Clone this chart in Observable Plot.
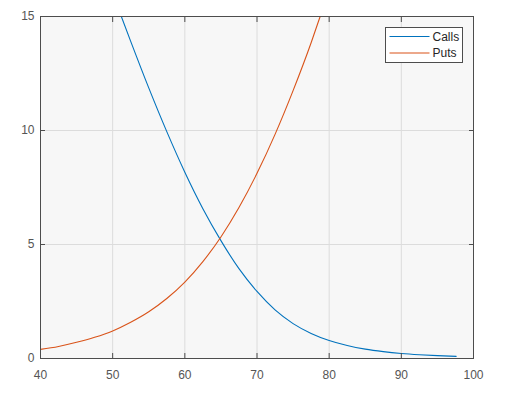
<!DOCTYPE html>
<html><head><meta charset="utf-8">
<script src="https://cdn.jsdelivr.net/npm/d3@7"></script>
<script src="https://cdn.jsdelivr.net/npm/@observablehq/plot@0.6"></script>
<style>body{margin:0;background:#fff;} #chart{width:513px;height:395px;}</style>
</head><body><div id="chart"></div>
<script>
const seriesNames = ["Calls", "Puts"];
const seriesColors = ["#0072BD", "#D95319"];
const callStrikes = [51.2, 52.5, 55, 57.5, 60, 62.5, 65, 67.5, 70, 72.5, 75, 77.5, 80, 82.5, 85, 87.5, 90, 92.5, 95, 97.6];
const callPrices  = [15.0, 13.91, 11.87, 9.95, 8.17, 6.57, 5.17, 3.94, 2.94, 2.13, 1.53, 1.10, 0.79, 0.57, 0.41, 0.30, 0.22, 0.165, 0.125, 0.095];
const putStrikes = [40, 42.5, 45, 47.5, 50, 52.5, 55, 57.5, 60, 62.5, 65, 67.5, 70, 72.5, 75, 77.5, 78.75];
const putPrices  = [0.40, 0.53, 0.71, 0.93, 1.21, 1.59, 2.05, 2.63, 3.35, 4.25, 5.33, 6.62, 8.12, 9.83, 11.75, 13.85, 15.0];
const xTicks = [40, 50, 60, 70, 80, 90, 100];
const yTicks = [0, 5, 10, 15];

const calls = callStrikes.map((x, i) => ({x, y: callPrices[i]}));
const puts = putStrikes.map((x, i) => ({x, y: putPrices[i]}));

const plot = Plot.plot({
  width: 513, height: 395,
  marginLeft: 40, marginRight: 40, marginTop: 16, marginBottom: 37,
  style: {fontFamily: "'Liberation Sans', Arial, sans-serif", fontSize: "12px", background: "#fff", color: "#4d4d4d"},
  x: {domain: [40, 100]},
  y: {domain: [0, 15]},
  marks: [
    Plot.frame({fill: "#f7f7f7", stroke: "none"}),
    Plot.gridX({ticks: xTicks, stroke: "#dcdcdc", strokeOpacity: 1}),
    Plot.gridY({ticks: yTicks, stroke: "#dcdcdc", strokeOpacity: 1}),
    Plot.line(calls, {x: "x", y: "y", stroke: seriesColors[0], strokeWidth: 1.1, curve: "monotone-x"}),
    Plot.line(puts, {x: "x", y: "y", stroke: seriesColors[1], strokeWidth: 1.1, curve: "monotone-x"}),
    Plot.frame({stroke: "#4d4d4d", strokeWidth: 1}),
    Plot.axisX({ticks: xTicks, tickSize: 0, tickPadding: 12, label: null, fill: "#555"}),
    Plot.axisY({ticks: yTicks, tickSize: 0, tickPadding: 6, label: null, fill: "#555"}),
    Plot.axisX({ticks: xTicks, tickSize: -5, text: null, label: null, stroke: "#4d4d4d"}),
    Plot.axisX({ticks: xTicks, anchor: "top", tickSize: -5, text: null, label: null, stroke: "#4d4d4d"}),
    Plot.axisY({ticks: yTicks, tickSize: -5, text: null, label: null, stroke: "#4d4d4d"}),
    Plot.axisY({ticks: yTicks, anchor: "right", tickSize: -5, text: null, label: null, stroke: "#4d4d4d"})
  ]
});
document.getElementById("chart").appendChild(plot);

// legend (MATLAB-style box, upper right)
const svg = d3.select(plot);
const lg = svg.append("g").attr("transform", "translate(385.5,27.5)").attr("text-anchor", "start");
lg.append("rect").attr("width", 77).attr("height", 35).attr("fill", "#fff").attr("stroke", "#4d4d4d").attr("stroke-width", 1);
seriesNames.forEach((name, i) => {
  const yy = 9 + i * 16.5;
  lg.append("line").attr("x1", 4).attr("x2", 44).attr("y1", yy).attr("y2", yy)
    .attr("stroke", seriesColors[i]).attr("stroke-width", 1.1);
  lg.append("text").attr("x", 47).attr("y", yy).attr("dy", "0.35em")
    .attr("text-anchor", "start")
    .attr("fill", "#262626").attr("font-size", "12px")
    .attr("font-family", "'Liberation Sans', Arial, sans-serif").text(name);
});
</script></body></html>
